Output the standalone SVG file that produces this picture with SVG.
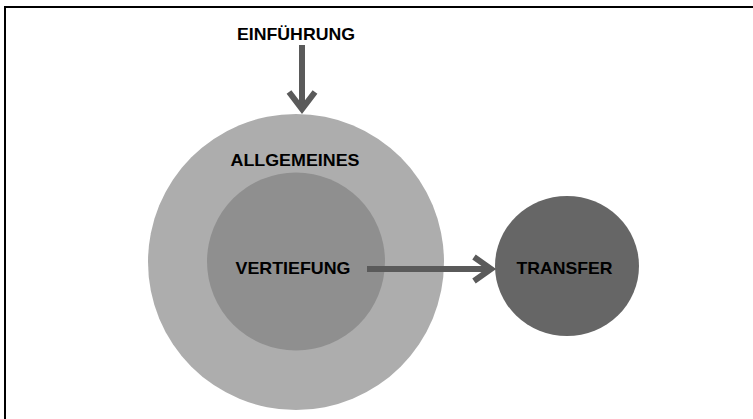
<svg xmlns="http://www.w3.org/2000/svg" width="753" height="419" viewBox="0 0 753 419">
  <style>
    .label { font-family: "Liberation Sans", Arial, sans-serif; font-weight: bold; font-size: 17px; fill: #000; text-anchor: middle; }
    .conn { stroke: #5a5a5a; stroke-width: 6; fill: none; }
  </style>
  <rect width="753" height="419" fill="#fff"/>
  <!-- frame: only top and left edges fall inside the canvas -->
  <rect x="5" y="7" width="900" height="600" fill="none" stroke="#000" stroke-width="2"/>

  <g id="allgemeines">
    <circle cx="296" cy="262" r="148" fill="#adadad"/>
    <text class="label" x="295" y="166" textLength="129" lengthAdjust="spacingAndGlyphs">ALLGEMEINES</text>
  </g>
  <g id="vertiefung">
    <circle cx="296" cy="261.5" r="89" fill="#8f8f8f"/>
    <text class="label" x="293" y="274" textLength="115" lengthAdjust="spacingAndGlyphs">VERTIEFUNG</text>
  </g>
  <g id="transfer">
    <ellipse cx="567" cy="266" rx="72" ry="70" fill="#666666"/>
    <text class="label" x="564.5" y="274" textLength="96" lengthAdjust="spacingAndGlyphs">TRANSFER</text>
  </g>
  <g id="einfuehrung">
    <text class="label" x="296" y="40" textLength="118" lengthAdjust="spacingAndGlyphs">EINFÜHRUNG</text>
  </g>

  <g id="connectors">
    <!-- Einführung down into Allgemeines -->
    <line class="conn" x1="302" y1="45" x2="302" y2="110"/>
    <polyline class="conn" points="289,92 302,109 315,92"/>
    <!-- Vertiefung across to Transfer -->
    <line class="conn" x1="367" y1="269" x2="491" y2="269"/>
    <polyline class="conn" points="474,257 491,269 474,281"/>
  </g>
</svg>
